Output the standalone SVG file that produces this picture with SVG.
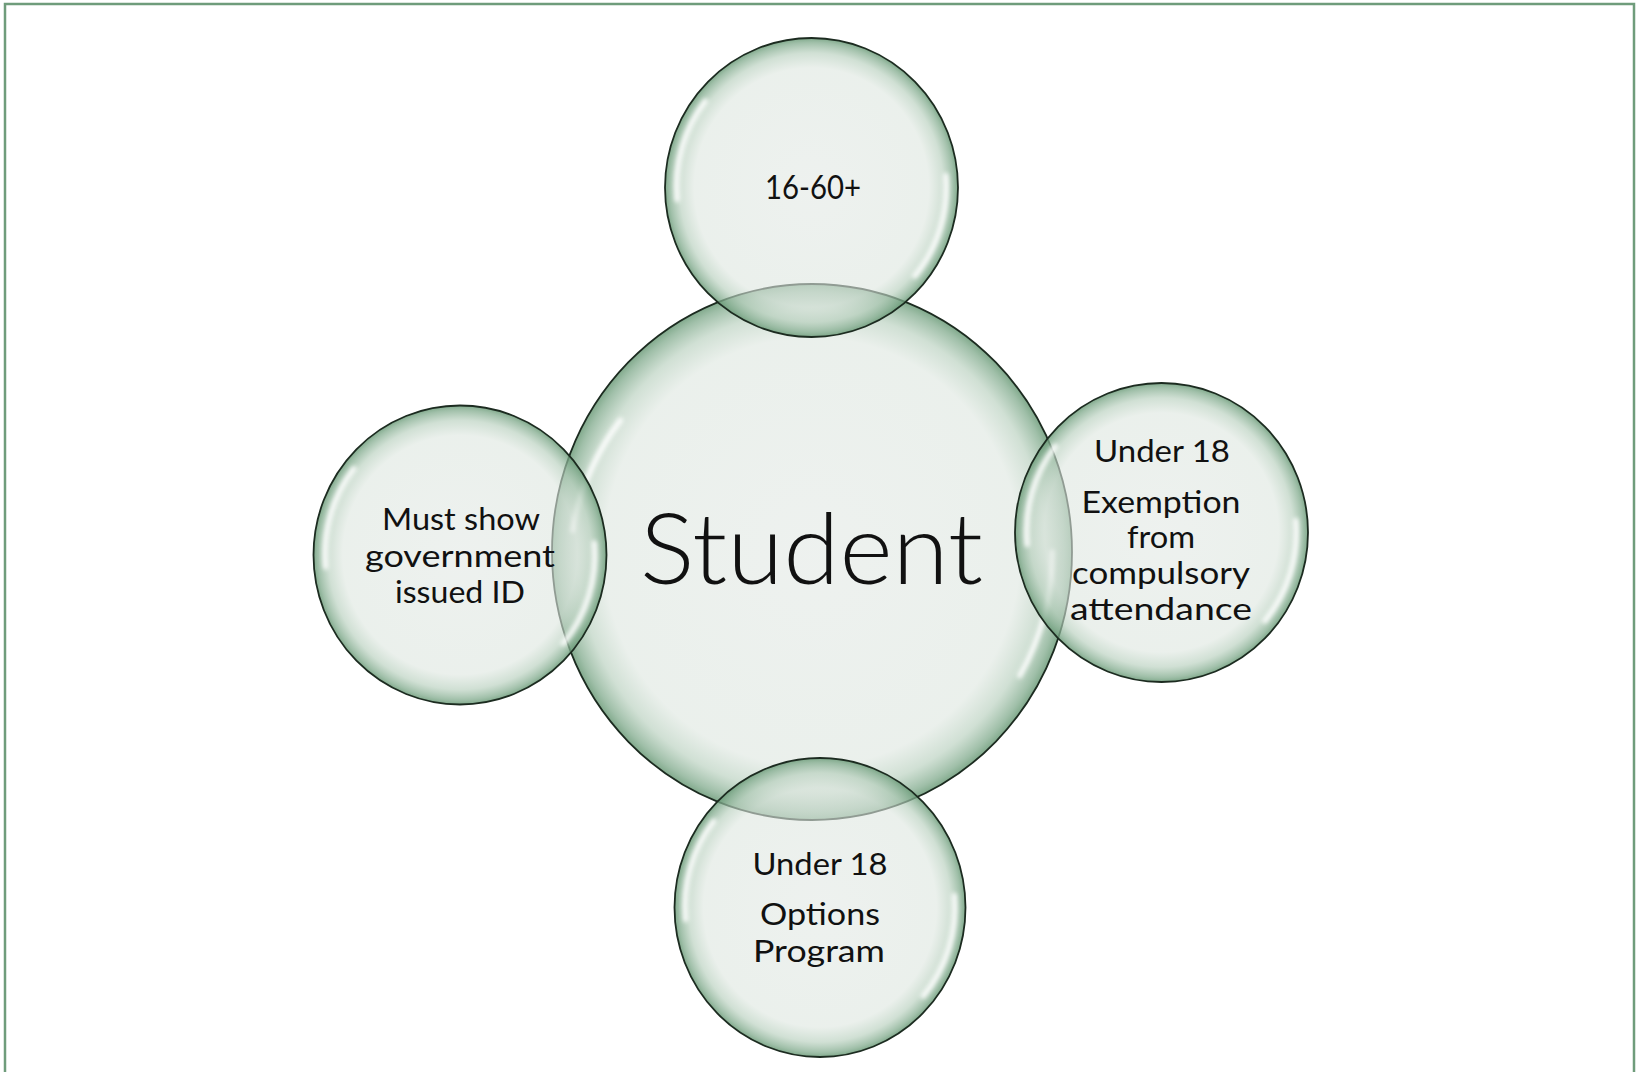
<svg xmlns="http://www.w3.org/2000/svg" width="1640" height="1072" viewBox="0 0 1640 1072">
<defs>
<radialGradient id="bub" cx="0.5" cy="0.5" r="0.5">
<stop offset="0" stop-color="#e2e8e4" stop-opacity="0.6"/>
<stop offset="0.8" stop-color="#dde6df" stop-opacity="0.6"/>
<stop offset="0.9" stop-color="#b7cfbd" stop-opacity="0.65"/>
<stop offset="0.97" stop-color="#80aa8c" stop-opacity="0.75"/>
<stop offset="1" stop-color="#6a9a77" stop-opacity="0.85"/>
</radialGradient>
<filter id="soft" x="-20%" y="-20%" width="140%" height="140%">
<feGaussianBlur stdDeviation="2"/>
</filter>
</defs>
<style>
.bubble{fill:url(#bub);stroke:#1c2b20;stroke-width:1.8}
.hl{fill:none;stroke:#ffffff;stroke-width:5.5;stroke-linecap:round;opacity:0.9;filter:url(#soft)}
.t{font-family:Lato,"Open Sans",sans-serif;font-weight:400;fill:#111;text-anchor:middle}
.big{font-weight:300;font-size:99px}
.s{font-size:30px}
</style>
<path d="M5,1072 V4 H1634 V1072" fill="none" stroke="#6f9c7b" stroke-width="2.5"/>
<g id="student">
<ellipse class="bubble" cx="812" cy="552" rx="260" ry="268"/>
<path class="hl" d="M620.4,420.3 A240,247 0 0 0 572.9,530.5"/>
<path class="hl" d="M1052,552 A240,247 0 0 1 1019.8,675.5"/>
<text class="t big" x="811.5" y="584" textLength="343" lengthAdjust="spacingAndGlyphs">Student</text>
</g>
<g id="age">
<ellipse class="bubble" cx="811.5" cy="187.5" rx="146.5" ry="149.5"/>
<path class="hl" d="M705.3,101.3 A134.8,137.5 0 0 0 677.2,199.5"/>
<path class="hl" d="M945.8,175.5 A134.8,137.5 0 0 1 914.8,275.9"/>
<text class="t" x="813" y="199" font-size="33" textLength="96" lengthAdjust="spacingAndGlyphs">16-60+</text>
</g>
<g id="id">
<ellipse class="bubble" cx="460" cy="555" rx="146.5" ry="149.5"/>
<path class="hl" d="M353.8,468.8 A134.8,137.5 0 0 0 325.7,567"/>
<path class="hl" d="M594.3,543 A134.8,137.5 0 0 1 563.3,643.4"/>
<text class="t s" x="461" y="530" textLength="158" lengthAdjust="spacingAndGlyphs">Must show</text>
<text class="t s" x="460" y="567" textLength="190" lengthAdjust="spacingAndGlyphs">government</text>
<text class="t s" x="460" y="603" textLength="130" lengthAdjust="spacingAndGlyphs">issued ID</text>
</g>
<g id="exemption">
<ellipse class="bubble" cx="1161.5" cy="532.5" rx="146.5" ry="149.5"/>
<path class="hl" d="M1055.3,446.3 A134.8,137.5 0 0 0 1027.2,544.5"/>
<path class="hl" d="M1295.8,520.5 A134.8,137.5 0 0 1 1264.8,620.9"/>
<text class="t s" x="1162" y="462" textLength="136" lengthAdjust="spacingAndGlyphs">Under 18</text>
<text class="t s" x="1161" y="513" textLength="159" lengthAdjust="spacingAndGlyphs">Exemption</text>
<text class="t s" x="1161" y="548" textLength="68" lengthAdjust="spacingAndGlyphs">from</text>
<text class="t s" x="1161" y="583.5" textLength="178" lengthAdjust="spacingAndGlyphs">compulsory</text>
<text class="t s" x="1161" y="620" textLength="182" lengthAdjust="spacingAndGlyphs">attendance</text>
</g>
<g id="options">
<ellipse class="bubble" cx="820" cy="907.5" rx="145.5" ry="149.5"/>
<path class="hl" d="M713.8,821.3 A134.8,137.5 0 0 0 685.7,919.5"/>
<path class="hl" d="M954.3,895.5 A134.8,137.5 0 0 1 923.3,995.9"/>
<text class="t s" x="820" y="875" textLength="135" lengthAdjust="spacingAndGlyphs">Under 18</text>
<text class="t s" x="820" y="925" textLength="120" lengthAdjust="spacingAndGlyphs">Options</text>
<text class="t s" x="819" y="962" textLength="132" lengthAdjust="spacingAndGlyphs">Program</text>
</g>
</svg>
